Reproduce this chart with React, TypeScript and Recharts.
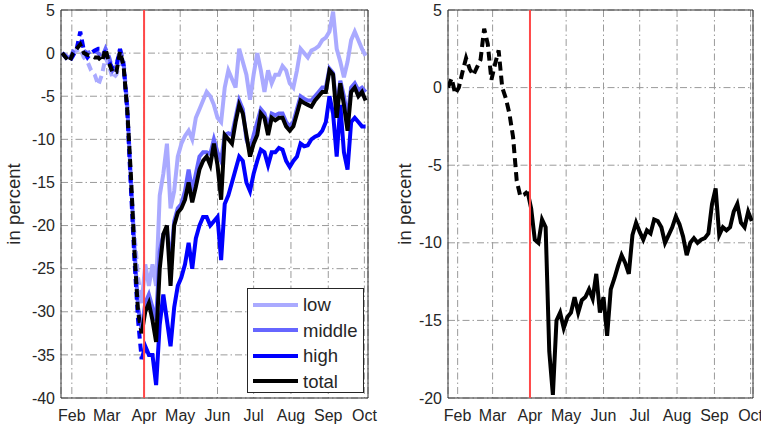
import React from 'react';
import { LineChart, Line, XAxis, YAxis, CartesianGrid, ReferenceLine, ReferenceArea, Legend } from 'recharts';

const FONT = '"Liberation Sans", Arial, Helvetica, sans-serif';
const TEXT = '#262626';
const GRID = '#9a9a9a';

// day of year 2020
const days = [
  24, 27, 30, 33, 36, 39, 42, 45, 48, 51,
  54, 57, 60, 63, 66, 69, 72, 75, 78, 81,
  84, 87, 90, 93, 96, 99, 102, 105, 108, 111,
  114, 117, 120, 123, 126, 129, 132, 135, 138, 141,
  144, 147, 150, 153, 156, 159, 162, 165, 168, 171,
  174, 177, 180, 183, 186, 189, 192, 195, 198, 201,
  204, 207, 210, 213, 216, 219, 222, 225, 228, 231,
  234, 237, 240, 243, 246, 249, 252, 255, 258, 261,
  264, 267, 270, 273, 276,
];

const monthTicks = [32, 61, 92, 122, 153, 183, 214, 245, 275];
const monthLabels = ['Feb', 'Mar', 'Apr', 'May', 'Jun', 'Jul', 'Aug', 'Sep', 'Oct'];

const breakDay = 90;
const eventDay = 92;

const leftYTicks = [5, 0, -5, -10, -15, -20, -25, -30, -35, -40];
const rightYTicks = [5, 0, -5, -10, -15, -20];

const lowValues = [
  0, -0.3, -0.5, 0, 0.3, 0.5, -0.5, -1, -2, -2.5,
  -3.7, -2.5, -0.5, -1.5, -3, -2.5, -1, -1.5, -7, -15,
  -21, -26, -29, -24.5, -27, -24.5, -27, -16.5, -14, -10.5,
  -18, -16, -12, -10.5, -9.6, -9, -10, -7.5, -6.5, -5.5,
  -4.5, -5, -6, -7.5, -8, -4, -2, -3, -4, 0.5,
  -1, -2.5, -5.4, -2.5, 0, -2, -4.5, -2, -3.5, -2.5,
  -2.5, -1.5, -2, -3.5, -4, -2, 0.5, 0, -0.5, 0.3,
  0.5, 0.8, 1.5, 1.8, 2.5, 4.8, 0.5, -1, -2.8, -1,
  1.5, 2.5, 1.5, 0.5, -0.3,
];

const middleValues = [
  0, -0.3, -0.8, 0.2, 0.6, 1.2, 0.3, 0, 0.2, 0.3,
  0, -0.5, 0.5, -0.5, -2, -1.5, 0.5, -1, -6, -14.5,
  -22.5, -29.5, -32, -29, -28, -29.5, -31, -23, -21, -20.5,
  -24.5, -19.5, -18, -17.5, -16, -13.5, -16, -14, -12, -11.5,
  -11.5, -11.7, -10, -11.5, -12.5, -9.5, -9.3, -9.5, -7.5, -5.5,
  -6.5, -10, -11.2, -9.5, -8, -6.5, -7, -8.5, -7, -7.2,
  -7, -7, -8, -8.5, -8, -6.5, -5, -5.3, -5.5, -5.5,
  -5, -4.5, -4, -4, -1.8, -2.3, -6.5, -3.2, -5, -7.5,
  -4, -3.5, -4.3, -4, -4.5,
];

const highValues = [
  0, -0.5, -1, -0.3, 0.5, 2.5, 0.3, -0.5, 0, 0.3,
  0.5, 0.5, 0, -1, -1.8, -1.5, 0.5, -1.5, -6.5, -15.5,
  -24, -31, -35.5, -34, -35, -35, -38.5, -31.5, -28, -31,
  -34, -29.5, -27, -26, -24.5, -22, -25, -21.5, -20, -19,
  -19, -20, -19.5, -19, -24, -17.5, -16.5, -15, -13.5, -12,
  -12.5, -15, -16, -14, -12.5, -11.2, -11.5, -13, -11.5, -11.5,
  -11, -11.2, -12.5, -13.2, -12.5, -12, -10.5, -10.8, -10.7, -10,
  -9.7, -9.5, -9, -8, -5, -7, -12, -6, -11.5, -13.5,
  -8, -7.5, -8, -8.5, -8.5,
];

const totalValues = [
  0, -0.5, -1, 0, 0.5, 1, 0, -0.2, -0.3, -0.5,
  -0.5, -1, 0.5, -1.2, -2.3, -2.2, 0.2, -1.5, -6.5, -14,
  -23, -30, -32.5, -30, -29, -31, -33.5, -25, -21, -20,
  -27, -20, -18.5, -18, -17, -15, -17.3, -15.5, -13.5, -12.5,
  -12, -13, -10.5, -13, -17, -9.5, -10, -10.5, -8, -6,
  -7, -9.5, -12, -10.5, -9.5, -7, -7.5, -9.5, -7.5, -7.8,
  -7.5, -7.5, -8.5, -9, -8.5, -7, -5.5, -5.8, -6, -6.2,
  -5.5, -5, -4.5, -4.5, -2, -2.5, -7.5, -3.5, -6, -9,
  -4.5, -4, -5, -4.5, -5.5,
];

const differenceValues = [
  0, 0.6, -0.4, 0, 1.0, 1.9, 1.2, 0.8, 1.3, 1.8,
  3.8, 2.8, 0.5, 1.5, 2.4, 0, -0.7, -1.7, -3.2, -6,
  -7, -6.9, -6.7, -7.8, -9.8, -10, -8.5, -9, -17, -19.8,
  -15, -14.5, -15.5, -14.8, -14.5, -13.5, -14.5, -13.7, -13.5, -13,
  -13.6, -12, -14.5, -13.5, -16, -13, -12.3, -11.5, -10.8, -11.3,
  -12, -9.5, -8.7, -9.3, -9.8, -9.2, -9.4, -8.5, -8.6, -9,
  -10, -9.5, -9, -8.3, -8.8, -9.6, -10.8, -10, -9.7, -10,
  -9.8, -9.7, -9.4, -7.5, -6.5, -9.5, -9, -9.2, -9, -8,
  -7.5, -8.7, -9, -8, -8.6,
];

type SeriesDef = { key: string; name: string; color: string; values: number[] };

const leftSeries: SeriesDef[] = [
  { key: 'low', name: 'low', color: '#aaaaff', values: lowValues },
  { key: 'middle', name: 'middle', color: '#6666ff', values: middleValues },
  { key: 'high', name: 'high', color: '#0000ff', values: highValues },
  { key: 'total', name: 'total', color: '#000000', values: totalValues },
];

const rightSeries: SeriesDef[] = [
  { key: 'diff', name: 'difference', color: '#000000', values: differenceValues },
];

function buildRows(dayList: number[], series: SeriesDef[]) {
  return dayList.map((d, i) => {
    const row: Record<string, number | null> = { d };
    series.forEach((s) => {
      row[s.key + 'Pre'] = d <= breakDay ? s.values[i] : null;
      row[s.key + 'Post'] = d >= breakDay ? s.values[i] : null;
    });
    return row;
  });
}

const leftRows = buildRows(days, leftSeries);
const rightRows = buildRows(days, rightSeries);

function LegendBox({ series }: { series: SeriesDef[] }) {
  return (
    <div
      style={{
        width: 117,
        height: 105,
        boxSizing: 'border-box',
        border: '1px solid #262626',
        background: '#fff',
        paddingTop: 3,
      }}
    >
      {series.map((s) => (
        <div key={s.key} style={{ display: 'flex', alignItems: 'center', height: 25.5 }}>
          <div style={{ width: 45, height: 4, background: s.color, marginLeft: 5, marginRight: 5 }} />
          <span style={{ fontSize: 18.5, fontFamily: FONT, color: TEXT, lineHeight: '25px' }}>{s.name}</span>
        </div>
      ))}
    </div>
  );
}

type PanelProps = {
  width: number;
  rows: Record<string, number | null>[];
  series: SeriesDef[];
  xDomain: [number, number];
  yDomain: [number, number];
  yTicks: number[];
  yAxisWidth: number;
  rightMargin: number;
  labelOffset: number;
  dash: string;
  showLegend: boolean;
};

function Panel(p: PanelProps) {
  const tickStyle = { fontSize: 16, fill: TEXT, fontFamily: FONT };
  return (
    <LineChart
      width={p.width}
      height={427}
      data={p.rows}
      margin={{ top: 10, right: p.rightMargin, bottom: 0, left: 0 }}
    >
      <CartesianGrid stroke={GRID} strokeDasharray="7 3 1.5 3" strokeWidth={1} />
      <XAxis
        dataKey="d"
        type="number"
        domain={p.xDomain}
        ticks={monthTicks}
        interval={0}
        tickFormatter={(v: number) => monthLabels[monthTicks.indexOf(v)]}
        axisLine={false}
        tickLine={false}
        tickSize={0}
        tickMargin={12}
        height={29}
        tick={tickStyle}
        allowDataOverflow
      />
      <YAxis
        type="number"
        domain={p.yDomain}
        ticks={p.yTicks}
        interval={0}
        axisLine={false}
        tickLine={false}
        tickSize={0}
        tickMargin={6}
        width={p.yAxisWidth}
        tick={tickStyle}
        allowDataOverflow
        label={{
          value: 'in percent',
          angle: -90,
          position: 'insideLeft',
          offset: p.labelOffset,
          style: { textAnchor: 'middle' },
          fontSize: 18.5,
          fill: TEXT,
          fontFamily: FONT,
        }}
      />
      <ReferenceArea
        x1={p.xDomain[0]}
        x2={p.xDomain[1]}
        y1={p.yDomain[0]}
        y2={p.yDomain[1]}
        fill="none"
        fillOpacity={0}
        stroke="#333333"
        strokeWidth={1}
      />
      {p.series.map((s) => (
        <Line
          key={s.key + 'Pre'}
          dataKey={s.key + 'Pre'}
          stroke={s.color}
          strokeWidth={4}
          strokeDasharray={p.dash}
          dot={false}
          activeDot={false}
          isAnimationActive={false}
          type="linear"
          legendType="none"
        />
      ))}
      {p.series.map((s) => (
        <Line
          key={s.key + 'Post'}
          dataKey={s.key + 'Post'}
          stroke={s.color}
          strokeWidth={4}
          dot={false}
          activeDot={false}
          isAnimationActive={false}
          type="linear"
          name={s.name}
        />
      ))}
      <ReferenceLine x={eventDay} stroke="#ff4848" strokeWidth={2} />
      {p.showLegend && (
        <Legend
          layout="horizontal"
          verticalAlign="middle"
          align="center"
          wrapperStyle={{ left: 247, top: 288, width: 117, height: 105 }}
          content={() => <LegendBox series={p.series} />}
        />
      )}
    </LineChart>
  );
}

export default function App() {
  return (
    <div style={{ position: 'absolute', left: 0, top: 0, width: 761, height: 427, background: '#fff' }}>
      <div style={{ position: 'absolute', left: 0, top: 0 }}>
        <Panel
          width={380}
          rows={leftRows}
          series={leftSeries}
          xDomain={[23, 278]}
          yDomain={[-40, 5]}
          yTicks={leftYTicks}
          yAxisWidth={61}
          rightMargin={12}
          labelOffset={13.5}
          dash="8 5"
          showLegend={true}
        />
      </div>
      <div style={{ position: 'absolute', left: 380, top: 0 }}>
        <Panel
          width={381}
          rows={rightRows}
          series={rightSeries}
          xDomain={[24, 277]}
          yDomain={[-20, 5]}
          yTicks={rightYTicks}
          yAxisWidth={68}
          rightMargin={8}
          labelOffset={24.5}
          dash="9 5"
          showLegend={false}
        />
      </div>
    </div>
  );
}
